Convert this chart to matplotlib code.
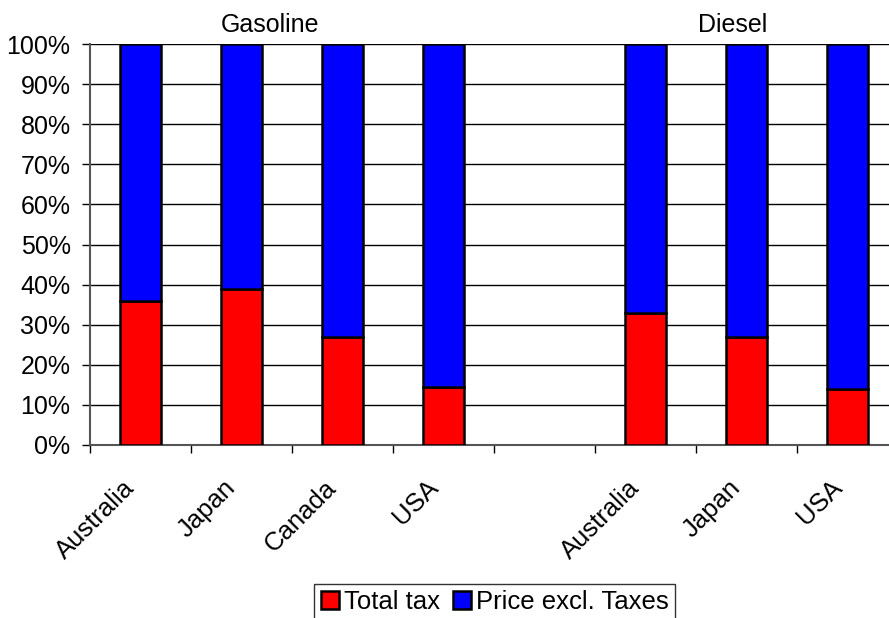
import matplotlib
matplotlib.use("Agg")
import matplotlib.pyplot as plt
import matplotlib.transforms as mtransforms
import numpy as np

plt.rcParams['font.family'] = ['Liberation Sans', 'DejaVu Sans']

categories = ["Australia", "Japan", "Canada", "USA", "", "Australia", "Japan", "USA"]
total_tax = [36.0, 38.8, 27.0, 14.5, np.nan, 32.8, 27.0, 14.0]
price_excl = [100 - v for v in total_tax]
groups = ["Gasoline", "Diesel"]
yticks = [0, 10, 20, 30, 40, 50, 60, 70, 80, 90, 100]

W, H = 889, 618
fig = plt.figure(figsize=(W / 100, H / 100), dpi=100)
ax = fig.add_axes([90 / W, 1 - 445 / H, 808 / W, 401 / H])

x = np.arange(len(categories))
bw = 0.4
ax.bar(x, total_tax, width=bw, color='#FF0000', edgecolor='black', linewidth=1.8,
       label='Total tax', zorder=3)
ax.bar(x, price_excl, width=bw, bottom=total_tax, color='#0000FF', edgecolor='black',
       linewidth=1.8, label='Price excl. Taxes', zorder=3)

ax.set_xlim(-0.5, len(categories) - 0.5)
ax.set_ylim(0, 100)
ax.set_yticks(yticks)
ax.set_yticklabels([f"{v}%" for v in yticks], fontsize=18)
ax.yaxis.grid(True, color='black', linewidth=1)
ax.set_axisbelow(True)

ax.set_xticks(x)
ax.set_xticklabels(categories, fontsize=18.5, rotation=45, ha='right', va='top',
                   rotation_mode='anchor')
ax.tick_params(axis='x', length=0, pad=12)
off = mtransforms.ScaledTranslation(-18 / 100, -14 / 100, fig.dpi_scale_trans)
for lbl in ax.get_xticklabels():
    lbl.set_transform(lbl.get_transform() + off)
ax.set_xticks(np.arange(-0.5, len(categories) + 0.5, 1), minor=True)
ax.tick_params(axis='x', which='minor', length=6, width=1, direction='out')
ax.tick_params(axis='y', length=6, width=1, direction='out', pad=8)

for s in ['top', 'right']:
    ax.spines[s].set_visible(False)
ax.spines['left'].set_color('#555555')
ax.spines['bottom'].set_color('#555555')
ax.spines['left'].set_linewidth(1.5)
ax.spines['bottom'].set_linewidth(1.5)

fig.text(270 / W, 1 - 31.7 / H, groups[0], fontsize=18, ha='center', va='baseline')
fig.text(732.5 / W, 1 - 31.7 / H, groups[1], fontsize=18, ha='center', va='baseline')

leg = fig.legend(loc='upper center', bbox_to_anchor=(494.5 / W, 1 - 584 / H), ncol=2,
                 fontsize=18.5, frameon=True, fancybox=False, edgecolor='black',
                 handlelength=0.7, handleheight=0.7, handletextpad=0.2,
                 columnspacing=0.5, borderpad=0.25, borderaxespad=0)
leg.get_frame().set_linewidth(1)

fig.savefig("out.png", dpi=100)
